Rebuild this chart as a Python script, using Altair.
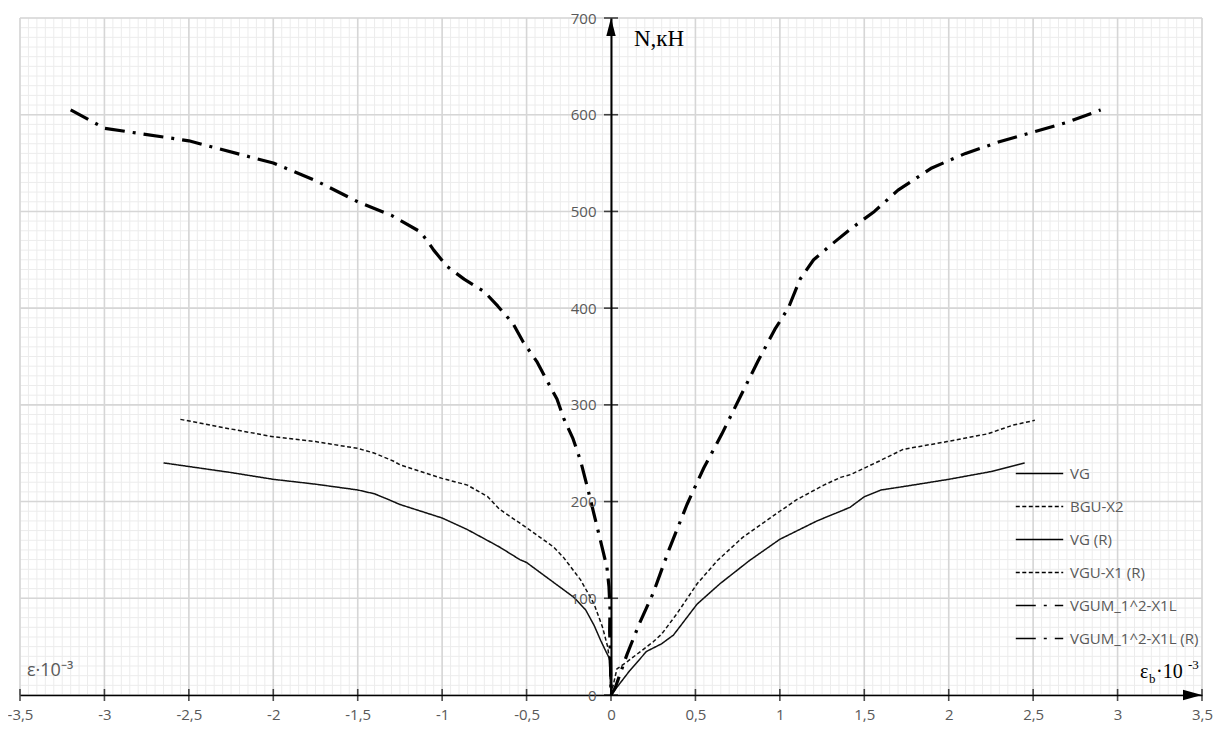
import altair as alt
import pandas as pd
import numpy as np

# ---------------- data ----------------
series_order = ["VG", "BGU-X2", "VG (R)", "VGU-X1 (R)", "VGUM_1^2-X1L", "VGUM_1^2-X1L (R)"]
thick_series = ["VGUM_1^2-X1L", "VGUM_1^2-X1L (R)"]

# right-hand curves
vg_x = [0, 0.11, 0.21, 0.3, 0.37, 0.51, 0.645, 0.82, 1.0, 1.22, 1.415, 1.5, 1.6, 1.75, 2.0, 2.25, 2.45]
vg_n = [0, 25, 45, 53, 62, 94, 115, 139, 161, 180, 194, 205, 212, 216, 223, 231, 240]

bgu_x = [0, 0.035, 0.1, 0.19, 0.25, 0.3, 0.39, 0.51, 0.63, 0.78, 1.0, 1.1, 1.26, 1.36, 1.42, 1.59, 1.73, 1.99, 2.23, 2.38, 2.51]
bgu_n = [0, 27, 35, 47, 55, 63, 84, 115, 139, 163, 190, 202, 217, 225, 228, 242, 254, 262, 270, 279, 284]

vgum_x = [0, 0.024, 0.095, 0.166, 0.249, 0.343, 0.45, 0.55, 0.657, 0.77, 0.87, 0.97, 1.05, 1.12, 1.2, 1.3, 1.42, 1.56, 1.7, 1.9, 2.1, 2.3, 2.5, 2.7, 2.9]
vgum_n = [0, 7, 42, 73, 105, 150, 197, 235, 270, 310, 345, 378, 400, 430, 450, 465, 482, 500, 522, 545, 560, 572, 582, 592, 605]

# left-hand curves
vgr_x = [-2.65, -2.25, -2.0, -1.75, -1.5, -1.4, -1.33, -1.25, -1.0, -0.85, -0.66, -0.54, -0.5, -0.36, -0.22, -0.15, -0.1, -0.06, -0.03, -0.01, 0.0]
vgr_n = [240, 230, 223, 218, 212, 208, 203, 197, 183, 171, 153, 140, 137, 119, 101, 88, 72, 56, 45, 38, 0]

vgu_x = [-2.55, -2.25, -2.0, -1.75, -1.5, -1.4, -1.29, -1.25, -1.0, -0.85, -0.73, -0.66, -0.5, -0.42, -0.34, -0.28, -0.18, -0.1, -0.05, -0.02, -0.008, 0.0]
vgu_n = [285, 275, 267, 262, 255, 250, 242, 238, 224, 217, 205, 192, 173, 163, 153, 142, 119, 94, 70, 50, 35, 0]

vgumr_x = [-3.2, -3.0, -2.5, -2.0, -1.75, -1.5, -1.3, -1.25, -1.13, -1.09, -1.05, -0.97, -0.87, -0.75, -0.67, -0.58, -0.52,
           -0.44, -0.385, -0.32, -0.28, -0.225, -0.18, -0.14, -0.095, -0.053, -0.024, -0.012, -0.006, -0.008, -0.004, 0.0]
vgumr_n = [605, 586, 573, 550, 532, 510, 496, 491, 479, 470, 460, 443, 430, 417, 402, 384, 365,
           345, 327, 306, 286, 265, 242, 215, 183, 153, 132, 112, 89, 66, 43, 0]

x_tick_values = [-3.5, -3, -2.5, -2, -1.5, -1, -0.5, 0, 0.5, 1, 1.5, 2, 2.5, 3, 3.5]
y_tick_values = [0, 100, 200, 300, 400, 500, 600, 700]

# ---------------- build table ----------------
rows = []
for name, xs, ns in [
    ("VG", vg_x, vg_n),
    ("BGU-X2", bgu_x, bgu_n),
    ("VG (R)", vgr_x, vgr_n),
    ("VGU-X1 (R)", vgu_x, vgu_n),
    ("VGUM_1^2-X1L", vgum_x, vgum_n),
    ("VGUM_1^2-X1L (R)", vgumr_x, vgumr_n),
]:
    for i, (a, b) in enumerate(zip(xs, ns)):
        rows.append({"series": name, "eps": a, "N": b, "i": i})
df = pd.DataFrame(rows)
df_thin = df[~df["series"].isin(thick_series)]
df_thick = df[df["series"].isin(thick_series)]

W, H = 1182, 677
LABEL_FONT = "Open Sans"
GREY = "#595959"

xscale = alt.Scale(domain=[-3.5, 3.5], nice=False, zero=False)
yscale = alt.Scale(domain=[0, 700], nice=False, zero=False)

xaxis = alt.Axis(values=x_tick_values, title=None, grid=False, ticks=False,
                 domainColor="black", domainWidth=1.6, labelFont=LABEL_FONT,
                 labelFontSize=15, labelColor=GREY, labelPadding=12,
                 labelExpr="replace(toString(datum.value), '.', ',')", zindex=1,
                 labelFlush=False)
yaxis = alt.Axis(values=y_tick_values, title=None, grid=False, ticks=False,
                 orient="left", offset=-W / 2, domainColor="black", domainWidth=2,
                 labelFont=LABEL_FONT, labelFontSize=15, labelColor=GREY,
                 labelPadding=15, zindex=1, labelFlush=False)


def X(field):
    return alt.X(field, type="quantitative", scale=xscale, axis=xaxis)


def Y(field):
    return alt.Y(field, type="quantitative", scale=yscale, axis=yaxis)


# grid
x_minor = pd.DataFrame({"x": np.round(np.arange(-3.5, 3.5001, 0.05), 3)})
y_minor = pd.DataFrame({"y": np.arange(0, 701, 10)})
x_major = pd.DataFrame({"x": x_tick_values})
y_major = pd.DataFrame({"y": y_tick_values})

gx_minor = alt.Chart(x_minor).mark_rule(color="#ececec", strokeWidth=1).encode(x=X("x"))
gy_minor = alt.Chart(y_minor).mark_rule(color="#ececec", strokeWidth=1).encode(y=Y("y"))
gx_major = alt.Chart(x_major).mark_rule(color="#d6d6d6", strokeWidth=1.6).encode(x=X("x"))
gy_major = alt.Chart(y_major).mark_rule(color="#d6d6d6", strokeWidth=1.6).encode(y=Y("y"))

# crossing ticks on both axes
xticks = alt.Chart(pd.DataFrame({"x": x_tick_values, "y": [0] * len(x_tick_values)})).mark_tick(
    orient="vertical", size=12, thickness=1.6, color="black").encode(x=X("x"), y=Y("y"))
yticks = alt.Chart(pd.DataFrame({"y": y_tick_values, "x": [0] * len(y_tick_values)})).mark_tick(
    orient="horizontal", size=14, thickness=1.6, color="black").encode(x=X("x"), y=Y("y"))

# arrows
up_arrow = alt.Chart(pd.DataFrame({"x": [0], "y": [700]})).mark_point(
    shape="M0,0L0.26,1L-0.26,1Z", size=1296, filled=True, color="black", opacity=1,
    strokeWidth=0).encode(x=X("x"), y=Y("y"))
right_arrow = alt.Chart(pd.DataFrame({"x": [3.5], "y": [0]})).mark_point(
    shape="M0,0L-1,-0.27L-1,0.27Z", size=1444, filled=True, color="black", opacity=1,
    strokeWidth=0).encode(x=X("x"), y=Y("y"))

dash_range = [[1, 0], [4, 2.5], [1, 0], [4, 2.5], [20, 8, 3, 8], [20, 8, 3, 8]]
width_range = [1.5, 1.5, 1.5, 1.5, 3.2, 3.2]

legend = alt.Legend(orient="none", legendX=995, legendY=431, title=None,
                    symbolType="stroke", symbolSize=2250, symbolStrokeColor="black",
                    labelFont=LABEL_FONT, labelFontSize=15, labelColor=GREY,
                    rowPadding=0, labelOffset=6, padding=0)

dash_enc = alt.StrokeDash("series:O", scale=alt.Scale(domain=series_order, range=dash_range),
                          legend=legend, sort=series_order)
width_enc = alt.StrokeWidth("series:O", scale=alt.Scale(domain=series_order, range=width_range),
                            legend=legend, sort=series_order)

lines_thin = alt.Chart(df_thin).mark_line(color="#111111", strokeWidth=1.5, strokeCap="butt",
                                          strokeJoin="round").encode(
    x=X("eps"), y=Y("N"), detail="series:N", order="i:Q", strokeDash=dash_enc, strokeWidth=width_enc)
lines_thick = alt.Chart(df_thick).mark_line(color="#000000", strokeWidth=3.2, strokeCap="butt",
                                            strokeJoin="round").encode(
    x=X("eps"), y=Y("N"), detail="series:N", order="i:Q", strokeDash=dash_enc, strokeWidth=width_enc)

one = pd.DataFrame({"a": [0]})
t_n = alt.Chart(one).mark_text(text="N,кН", font="Liberation Serif", fontSize=23, align="left",
                               baseline="alphabetic", color="black").encode(
    x=alt.value(614), y=alt.value(28))
t_eps_left = alt.Chart(one).mark_text(text="ε·10⁻³", font=LABEL_FONT, fontSize=18, align="left",
                                      baseline="alphabetic", color=GREY).encode(
    x=alt.value(7), y=alt.value(658))
t_e = alt.Chart(one).mark_text(text="ε", font="Liberation Serif", fontSize=20, align="left",
                               baseline="alphabetic", color="black").encode(
    x=alt.value(1120), y=alt.value(660))
t_b = alt.Chart(one).mark_text(text="b", font="Liberation Serif", fontSize=13, align="left",
                               baseline="alphabetic", color="black").encode(
    x=alt.value(1129), y=alt.value(665))
t_10 = alt.Chart(one).mark_text(text="·10", font="Liberation Serif", fontSize=20, align="left",
                                baseline="alphabetic", color="black").encode(
    x=alt.value(1136), y=alt.value(660))
t_m3 = alt.Chart(one).mark_text(text="-3", font="Liberation Serif", fontSize=13, align="left",
                                baseline="alphabetic", color="black").encode(
    x=alt.value(1168), y=alt.value(651))

chart = alt.layer(
    gx_minor, gy_minor, gx_major, gy_major,
    lines_thin, lines_thick, xticks, yticks, up_arrow, right_arrow,
    t_n, t_eps_left, t_e, t_b, t_10, t_m3,
).properties(
    width=W, height=H,
    autosize=alt.AutoSizeParams(type="none"),
    padding={"left": 12, "top": 10, "right": 14, "bottom": 30},
    background="white",
).configure_view(stroke=None)

chart.save("out.html", embed_options={"renderer": "svg", "actions": False})
